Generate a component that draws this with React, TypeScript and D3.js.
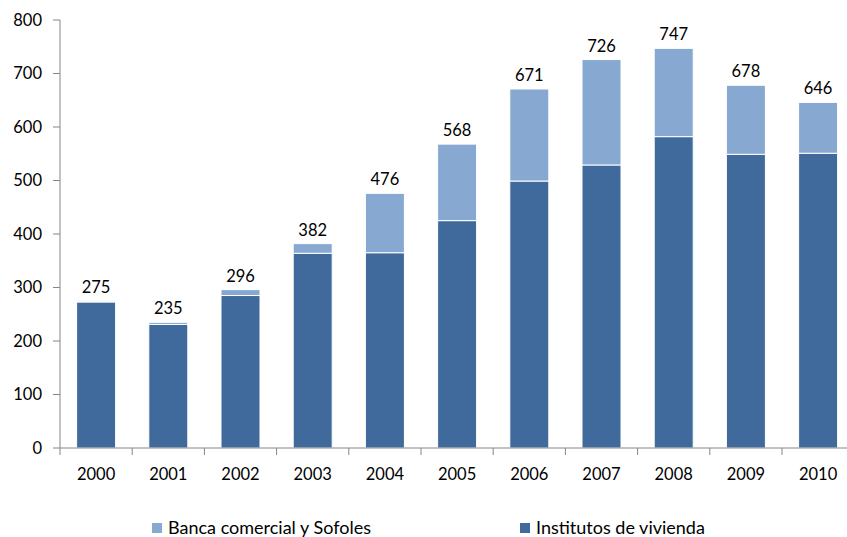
import React from "react";
import * as d3 from "d3";

const years = ["2000","2001","2002","2003","2004","2005","2006","2007","2008","2009","2010"];
const institutos = [273, 231, 285, 364, 365, 425, 499, 529, 582, 549, 551];
const banca = [2, 4, 11, 18, 111, 143, 172, 197, 165, 129, 95];
const totals = [275, 235, 296, 382, 476, 568, 671, 726, 747, 678, 646];
const yTicks = [0, 100, 200, 300, 400, 500, 600, 700, 800];
const seriesNames = ["Banca comercial y Sofoles", "Institutos de vivienda"];

const DARK = "#406A9B";
const LIGHT = "#86A8D1";
const FONT = "Lato, 'Open Sans', sans-serif";
const NUM = 16.5;
const LEG = 18;

export default function App() {
  const W = 847, H = 537;
  const x = d3.scaleBand<string>().domain(years).range([60, 854.2]).paddingInner(0.46).paddingOuter(0.23);
  const band = d3.scaleBand<string>().domain(years).range([60, 854.2]);
  const y = d3.scaleLinear().domain([0, 800]).range([448, 20]);

  const rows = years.map((yr, i) => ({ year: yr, institutos: institutos[i], banca: banca[i] }));
  const stack = d3.stack<any>().keys(["institutos", "banca"])(rows);
  const colors: Record<string, string> = { institutos: DARK, banca: LIGHT };

  return (
    <svg width={W} height={H} style={{ position: "absolute", left: 0, top: 0, background: "#fff" }}>
      {stack.map((layer) => (
        <g key={layer.key} fill={colors[layer.key]}>
          {layer.map((d, i) => (
            <rect key={i} x={x(years[i])!} width={x.bandwidth()} y={y(d[1])} height={Math.max(0, y(d[0]) - y(d[1]))}
              stroke="#fff" strokeWidth={1} />
          ))}
        </g>
      ))}
      {/* y axis */}
      <line x1={60} x2={60} y1={20} y2={448} stroke="#868686" />
      {yTicks.map((t) => (
        <g key={t}>
          <line x1={53} x2={60} y1={y(t)} y2={y(t)} stroke="#868686" />
          <text x={42} y={y(t)} dy="0.35em" textAnchor="end" fontFamily={FONT} fontSize={NUM} fill="#000">{t}</text>
        </g>
      ))}
      {/* x axis */}
      <line x1={60} x2={847} y1={448} y2={448} stroke="#868686" />
      {years.map((yr) => (
        <line key={"t" + yr} x1={band(yr)!} x2={band(yr)!} y1={448} y2={455} stroke="#868686" />
      ))}
      {years.map((yr) => (
        <text key={"l" + yr} x={band(yr)! + band.bandwidth() / 2} y={480} textAnchor="middle" fontFamily={FONT} fontSize={NUM} fill="#000">{yr}</text>
      ))}
      {years.map((yr, i) => (
        <text key={"v" + yr} x={x(yr)! + x.bandwidth() / 2} y={y(totals[i]) - 8} textAnchor="middle" fontFamily={FONT} fontSize={NUM} fill="#000">{totals[i]}</text>
      ))}
      {/* legend */}
      <rect x={152} y={523} width={10} height={10} fill={LIGHT} />
      <text x={168} y={534} fontFamily={FONT} fontSize={LEG} fill="#000">{seriesNames[0]}</text>
      <rect x={520} y={523} width={10} height={10} fill={DARK} />
      <text x={536} y={534} fontFamily={FONT} fontSize={LEG} fill="#000">{seriesNames[1]}</text>
    </svg>
  );
}
